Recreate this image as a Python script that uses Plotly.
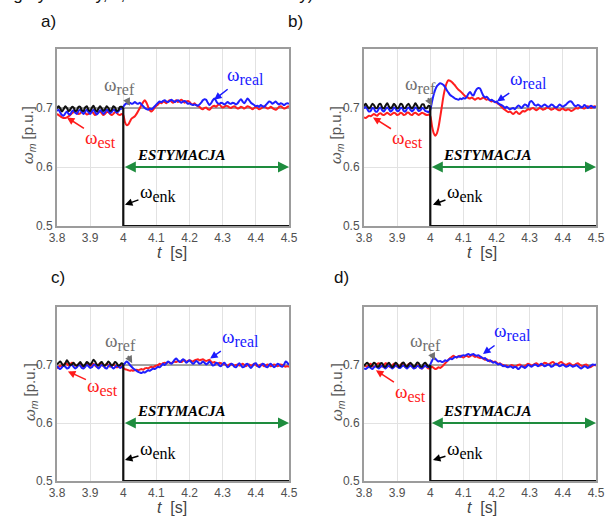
import plotly.graph_objects as go

# ---------------- data ----------------
T = [round(3.8 + 0.005 * i, 3) for i in range(141)]   # sampling instants [s]
T_PRE = T[:41]                                        # 3.8 ... 4.0 s (encoder working)
ENK_FAIL_T = [4.0, 4.0, 4.5]
REF_T = [3.8, 4.5]
REF_V = [0.7, 0.7]
ENK_FAIL_LEVEL = 0.5
X_TICKS = [3.8, 3.9, 4.0, 4.1, 4.2, 4.3, 4.4, 4.5]
X_TICK_LABELS = ["3.8", "3.9", "4", "4.1", "4.2", "4.3", "4.4", "4.5"]
Y_TICKS = [0.5, 0.6, 0.7]
Y_TICK_LABELS = ["0.5", "0.6", "0.7"]
EST_T = [4.0, 4.5]
EST_LEVEL = 0.6
PANEL_LABELS = ["a)", "b)", "c)", "d)"]
CAPTION = "algorytmiczny, c, d – detektor neuronowy)."

# ---- panel a ----
enk_a = [0.699, 0.703, 0.699, 0.694, 0.698, 0.703, 0.700, 0.695, 0.697, 0.702,
         0.701, 0.695, 0.696, 0.702, 0.702, 0.696, 0.695, 0.701, 0.703, 0.697,
         0.695, 0.700, 0.704, 0.698, 0.694, 0.699, 0.703, 0.699, 0.695, 0.698,
         0.703, 0.700, 0.695, 0.697, 0.703, 0.701, 0.695, 0.696, 0.702, 0.702,
         0.700]
real_a = [0.695, 0.697, 0.692, 0.688, 0.687, 0.691, 0.694, 0.690, 0.689, 0.694,
          0.696, 0.692, 0.690, 0.695, 0.697, 0.693, 0.690, 0.694, 0.697, 0.693,
          0.690, 0.694, 0.697, 0.693, 0.689, 0.692, 0.696, 0.694, 0.690, 0.693,
          0.697, 0.695, 0.691, 0.693, 0.697, 0.696, 0.692, 0.694, 0.698, 0.699,
          0.702, 0.706, 0.708, 0.707, 0.709, 0.707, 0.708, 0.710, 0.708, 0.707,
          0.709, 0.706, 0.703, 0.700, 0.698, 0.697, 0.699, 0.698, 0.700, 0.703,
          0.706, 0.709, 0.711, 0.710, 0.712, 0.713, 0.711, 0.710, 0.712, 0.714,
          0.712, 0.710, 0.712, 0.713, 0.711, 0.709, 0.711, 0.712, 0.710, 0.707,
          0.708, 0.706, 0.705, 0.706, 0.705, 0.704, 0.706, 0.709, 0.713, 0.715,
          0.714, 0.709, 0.705, 0.708, 0.713, 0.716, 0.712, 0.708, 0.707, 0.709,
          0.708, 0.706, 0.708, 0.710, 0.708, 0.707, 0.709, 0.708, 0.706, 0.708,
          0.712, 0.715, 0.711, 0.708, 0.712, 0.716, 0.713, 0.709, 0.707, 0.705,
          0.703, 0.704, 0.702, 0.705, 0.703, 0.702, 0.705, 0.708, 0.711, 0.710,
          0.707, 0.709, 0.711, 0.708, 0.706, 0.708, 0.707, 0.705, 0.707, 0.708,
          0.707]
est_a = [0.690, 0.688, 0.686, 0.684, 0.683, 0.683, 0.684, 0.686, 0.688, 0.691,
         0.693, 0.694, 0.692, 0.690, 0.691, 0.694, 0.695, 0.692, 0.689, 0.690,
         0.693, 0.694, 0.691, 0.688, 0.690, 0.693, 0.694, 0.691, 0.688, 0.690,
         0.693, 0.693, 0.690, 0.688, 0.690, 0.693, 0.692, 0.689, 0.688, 0.690,
         0.688, 0.676, 0.671, 0.672, 0.677, 0.682, 0.684, 0.686, 0.690, 0.695,
         0.700, 0.705, 0.710, 0.713, 0.709, 0.702, 0.696, 0.694, 0.697, 0.701,
         0.704, 0.706, 0.709, 0.708, 0.711, 0.710, 0.708, 0.711, 0.713, 0.711,
         0.709, 0.711, 0.713, 0.710, 0.712, 0.714, 0.712, 0.709, 0.711, 0.712,
         0.710, 0.707, 0.706, 0.708, 0.705, 0.703, 0.702, 0.699, 0.698, 0.700,
         0.701, 0.698, 0.697, 0.700, 0.703, 0.704, 0.702, 0.705, 0.706, 0.703,
         0.701, 0.702, 0.704, 0.703, 0.701, 0.700, 0.702, 0.703, 0.701, 0.699,
         0.700, 0.702, 0.701, 0.699, 0.701, 0.703, 0.702, 0.700, 0.698, 0.700,
         0.702, 0.700, 0.698, 0.699, 0.701, 0.703, 0.701, 0.699, 0.700, 0.702,
         0.700, 0.698, 0.697, 0.699, 0.702, 0.703, 0.701, 0.699, 0.700, 0.702,
         0.703]

# ---- panel b ----
enk_b = [0.703, 0.707, 0.703, 0.699, 0.702, 0.707, 0.705, 0.700, 0.700, 0.706,
         0.707, 0.701, 0.699, 0.704, 0.708, 0.703, 0.699, 0.702, 0.707, 0.704,
         0.699, 0.701, 0.707, 0.706, 0.700, 0.700, 0.705, 0.707, 0.702, 0.699,
         0.703, 0.708, 0.704, 0.699, 0.701, 0.706, 0.706, 0.700, 0.700, 0.704,
         0.703]
real_b = [0.699, 0.702, 0.698, 0.694, 0.695, 0.700, 0.699, 0.694, 0.694, 0.699,
          0.701, 0.696, 0.694, 0.698, 0.701, 0.698, 0.694, 0.696, 0.701, 0.699,
          0.695, 0.695, 0.700, 0.700, 0.695, 0.694, 0.699, 0.701, 0.697, 0.694,
          0.697, 0.701, 0.699, 0.695, 0.696, 0.700, 0.699, 0.695, 0.694, 0.693,
          0.697, 0.710, 0.722, 0.731, 0.737, 0.740, 0.742, 0.741, 0.739, 0.735,
          0.730, 0.726, 0.722, 0.720, 0.718, 0.716, 0.715, 0.714, 0.716, 0.715,
          0.717, 0.716, 0.719, 0.724, 0.727, 0.723, 0.721, 0.727, 0.732, 0.734,
          0.733, 0.727, 0.721, 0.718, 0.719, 0.716, 0.713, 0.714, 0.712, 0.710,
          0.711, 0.708, 0.706, 0.705, 0.703, 0.700, 0.702, 0.700, 0.698, 0.699,
          0.700, 0.698, 0.701, 0.704, 0.703, 0.700, 0.703, 0.706, 0.705, 0.702,
          0.710, 0.712, 0.709, 0.705, 0.704, 0.706, 0.704, 0.702, 0.704, 0.706,
          0.704, 0.702, 0.703, 0.706, 0.705, 0.702, 0.701, 0.703, 0.706, 0.704,
          0.702, 0.704, 0.706, 0.709, 0.711, 0.711, 0.708, 0.704, 0.703, 0.705,
          0.704, 0.701, 0.702, 0.705, 0.703, 0.700, 0.702, 0.704, 0.702, 0.701,
          0.703]
est_b = [0.684, 0.683, 0.685, 0.687, 0.686, 0.688, 0.690, 0.688, 0.687, 0.690,
         0.691, 0.689, 0.688, 0.690, 0.692, 0.690, 0.688, 0.690, 0.692, 0.691,
         0.688, 0.689, 0.692, 0.691, 0.688, 0.689, 0.692, 0.692, 0.689, 0.688,
         0.691, 0.692, 0.690, 0.688, 0.690, 0.692, 0.691, 0.689, 0.688, 0.689,
         0.686, 0.670, 0.658, 0.653, 0.657, 0.668, 0.685, 0.703, 0.721, 0.734,
         0.743, 0.747, 0.746, 0.744, 0.741, 0.738, 0.734, 0.731, 0.729, 0.726,
         0.723, 0.720, 0.719, 0.717, 0.716, 0.718, 0.716, 0.714, 0.716, 0.717,
         0.715, 0.716, 0.718, 0.716, 0.714, 0.715, 0.713, 0.711, 0.712, 0.710,
         0.709, 0.707, 0.705, 0.702, 0.699, 0.697, 0.695, 0.693, 0.694, 0.692,
         0.690, 0.692, 0.694, 0.691, 0.690, 0.693, 0.695, 0.694, 0.696, 0.698,
         0.697, 0.699, 0.700, 0.698, 0.696, 0.698, 0.700, 0.699, 0.697, 0.698,
         0.700, 0.701, 0.699, 0.697, 0.698, 0.700, 0.699, 0.697, 0.696, 0.698,
         0.699, 0.697, 0.696, 0.698, 0.697, 0.695, 0.696, 0.698, 0.700, 0.699,
         0.701, 0.702, 0.700, 0.699, 0.701, 0.703, 0.702, 0.700, 0.701, 0.703,
         0.702]

# ---- panel c ----
enk_c = [0.701, 0.704, 0.706, 0.702, 0.699, 0.703, 0.708, 0.704, 0.700, 0.701,
         0.704, 0.700, 0.699, 0.702, 0.705, 0.701, 0.698, 0.701, 0.705, 0.703,
         0.700, 0.704, 0.709, 0.706, 0.701, 0.699, 0.703, 0.705, 0.701, 0.699,
         0.702, 0.706, 0.703, 0.699, 0.701, 0.705, 0.703, 0.699, 0.700, 0.703,
         0.701]
real_c = [0.698, 0.695, 0.693, 0.696, 0.699, 0.697, 0.694, 0.695, 0.699, 0.700,
          0.697, 0.694, 0.696, 0.700, 0.699, 0.695, 0.694, 0.697, 0.700, 0.698,
          0.695, 0.696, 0.700, 0.701, 0.697, 0.694, 0.697, 0.700, 0.699, 0.695,
          0.694, 0.698, 0.700, 0.697, 0.694, 0.696, 0.699, 0.698, 0.695, 0.696,
          0.700, 0.703, 0.706, 0.704, 0.700, 0.697, 0.694, 0.692, 0.690, 0.688,
          0.687, 0.686, 0.688, 0.687, 0.689, 0.691, 0.690, 0.692, 0.694, 0.693,
          0.695, 0.697, 0.696, 0.699, 0.702, 0.700, 0.703, 0.706, 0.704, 0.702,
          0.705, 0.709, 0.711, 0.708, 0.705, 0.707, 0.710, 0.708, 0.704, 0.706,
          0.708, 0.705, 0.702, 0.704, 0.707, 0.705, 0.702, 0.703, 0.706, 0.704,
          0.701, 0.703, 0.706, 0.703, 0.699, 0.700, 0.704, 0.703, 0.699, 0.698,
          0.702, 0.704, 0.700, 0.696, 0.698, 0.702, 0.701, 0.697, 0.696, 0.700,
          0.703, 0.700, 0.696, 0.697, 0.701, 0.702, 0.698, 0.695, 0.698, 0.702,
          0.703, 0.699, 0.696, 0.699, 0.702, 0.701, 0.697, 0.696, 0.700, 0.702,
          0.699, 0.696, 0.698, 0.702, 0.701, 0.698, 0.697, 0.701, 0.706, 0.704,
          0.700]
est_c = [0.694, 0.697, 0.699, 0.697, 0.700, 0.703, 0.702, 0.699, 0.701, 0.704,
         0.703, 0.700, 0.698, 0.701, 0.703, 0.700, 0.697, 0.699, 0.702, 0.700,
         0.698, 0.700, 0.702, 0.699, 0.697, 0.700, 0.703, 0.701, 0.698, 0.699,
         0.702, 0.700, 0.697, 0.699, 0.701, 0.699, 0.696, 0.697, 0.699, 0.697,
         0.695, 0.693, 0.692, 0.691, 0.690, 0.691, 0.690, 0.691, 0.692, 0.691,
         0.692, 0.693, 0.692, 0.694, 0.695, 0.694, 0.696, 0.697, 0.696, 0.698,
         0.699, 0.700, 0.702, 0.701, 0.703, 0.704, 0.703, 0.705, 0.704, 0.703,
         0.705, 0.706, 0.705, 0.707, 0.706, 0.705, 0.707, 0.708, 0.706, 0.707,
         0.708, 0.707, 0.706, 0.708, 0.709, 0.710, 0.708, 0.709, 0.710, 0.708,
         0.707, 0.708, 0.709, 0.706, 0.704, 0.705, 0.703, 0.702, 0.704, 0.703,
         0.701, 0.702, 0.700, 0.699, 0.701, 0.702, 0.700, 0.699, 0.700, 0.701,
         0.699, 0.700, 0.702, 0.700, 0.698, 0.700, 0.701, 0.699, 0.700, 0.702,
         0.700, 0.698, 0.699, 0.701, 0.700, 0.698, 0.699, 0.701, 0.700, 0.698,
         0.699, 0.701, 0.700, 0.698, 0.699, 0.701, 0.700, 0.698, 0.697, 0.698,
         0.697]

# ---- panel d ----
enk_d = [0.698, 0.702, 0.704, 0.700, 0.697, 0.700, 0.704, 0.702, 0.697, 0.698,
         0.703, 0.703, 0.698, 0.697, 0.701, 0.704, 0.700, 0.696, 0.699, 0.704,
         0.702, 0.697, 0.698, 0.703, 0.704, 0.699, 0.697, 0.701, 0.704, 0.701,
         0.697, 0.699, 0.704, 0.703, 0.698, 0.697, 0.702, 0.704, 0.700, 0.697,
         0.700]
real_d = [0.694, 0.693, 0.695, 0.697, 0.695, 0.693, 0.696, 0.698, 0.696, 0.694,
          0.697, 0.699, 0.696, 0.694, 0.697, 0.699, 0.697, 0.694, 0.696, 0.699,
          0.698, 0.695, 0.695, 0.698, 0.699, 0.696, 0.694, 0.697, 0.699, 0.697,
          0.694, 0.695, 0.698, 0.698, 0.695, 0.694, 0.697, 0.699, 0.697, 0.697,
          0.701, 0.707, 0.712, 0.711, 0.708, 0.706, 0.707, 0.705, 0.706, 0.708,
          0.707, 0.709, 0.711, 0.710, 0.712, 0.714, 0.713, 0.715, 0.714, 0.716,
          0.717, 0.716, 0.718, 0.719, 0.717, 0.718, 0.719, 0.717, 0.716, 0.717,
          0.715, 0.713, 0.711, 0.712, 0.709, 0.707, 0.708, 0.706, 0.704, 0.705,
          0.703, 0.701, 0.702, 0.700, 0.698, 0.699, 0.697, 0.696, 0.698, 0.697,
          0.695, 0.697, 0.696, 0.693, 0.695, 0.698, 0.697, 0.695, 0.697, 0.700,
          0.699, 0.697, 0.699, 0.701, 0.700, 0.698, 0.700, 0.702, 0.700, 0.698,
          0.699, 0.701, 0.700, 0.697, 0.698, 0.701, 0.702, 0.700, 0.698, 0.699,
          0.701, 0.699, 0.697, 0.698, 0.700, 0.699, 0.697, 0.698, 0.700, 0.698,
          0.696, 0.694, 0.696, 0.698, 0.697, 0.695, 0.697, 0.699, 0.701, 0.700,
          0.701]
est_d = [0.701, 0.698, 0.697, 0.700, 0.702, 0.699, 0.696, 0.698, 0.702, 0.703,
         0.700, 0.697, 0.699, 0.703, 0.702, 0.698, 0.696, 0.699, 0.702, 0.701,
         0.697, 0.696, 0.700, 0.703, 0.700, 0.697, 0.698, 0.702, 0.702, 0.698,
         0.695, 0.697, 0.700, 0.698, 0.695, 0.694, 0.697, 0.699, 0.696, 0.694,
         0.695, 0.697, 0.695, 0.693, 0.694, 0.696, 0.695, 0.697, 0.700, 0.703,
         0.706, 0.709, 0.712, 0.714, 0.716, 0.714, 0.713, 0.715, 0.716, 0.714,
         0.713, 0.715, 0.716, 0.714, 0.715, 0.717, 0.716, 0.714, 0.715, 0.713,
         0.712, 0.713, 0.711, 0.709, 0.710, 0.708, 0.706, 0.707, 0.705, 0.706,
         0.704, 0.702, 0.703, 0.701, 0.700, 0.698, 0.699, 0.697, 0.698, 0.700,
         0.699, 0.697, 0.698, 0.700, 0.701, 0.699, 0.697, 0.698, 0.700, 0.702,
         0.701, 0.699, 0.700, 0.702, 0.703, 0.701, 0.699, 0.700, 0.702, 0.704,
         0.703, 0.701, 0.702, 0.704, 0.705, 0.703, 0.701, 0.702, 0.704, 0.705,
         0.703, 0.701, 0.700, 0.702, 0.703, 0.701, 0.699, 0.700, 0.702, 0.703,
         0.701, 0.699, 0.698, 0.700, 0.701, 0.699, 0.696, 0.697, 0.699, 0.700,
         0.699]

SERIES = {"a": (enk_a, real_a, est_a), "b": (enk_b, real_b, est_b),
          "c": (enk_c, real_c, est_c), "d": (enk_d, real_d, est_d)}

# ---------------- layout helpers ----------------
W, H = 606, 517
def px(p):
    return p / W
def py(p):
    return 1 - p / H

COL_REAL = "#1f1fff"
COL_EST = "#ff1f1f"
COL_ENK = "#111111"
COL_REF = "#8a8a8a"
COL_GREEN = "#1e8c3e"
SERIF = "Liberation Serif, Times New Roman, serif"
SANS = "Liberation Sans, Arial, sans-serif"

# pixel geometry of each panel: (x_left, x_right, y_top, y_bottom)
PANELS = [
    dict(k="a", n="", box=(57, 289, 49, 226), lab=(49, 21), ylab=(29, 135), xlab=(172, 253),
         ref=(4.02, 0.704, -10, -20), real=(4.274, 0.714, 31, -24), est=(3.83, 0.684, 34, 22),
         enk=(4.005, 0.536, 33, -12), esty=(4.177, 0.62)),
    dict(k="b", n="2", box=(364, 596, 49, 226), lab=(295, 21), ylab=(337, 135), xlab=(482, 253),
         ref=(4.005, 0.704, -11, -21), real=(4.201, 0.711, 32, -22), est=(3.827, 0.684, 35, 22),
         enk=(4.008, 0.536, 32, -12), esty=(4.174, 0.62)),
    dict(k="c", n="3", box=(57, 289, 307, 481), lab=(58, 277), ylab=(30, 392), xlab=(172, 508),
         ref=(4.027, 0.703, -12, -21), real=(4.262, 0.711, 30, -21), est=(3.833, 0.689, 35, 16),
         enk=(4.005, 0.536, 33, -10), esty=(4.177, 0.62)),
    dict(k="d", n="4", box=(364, 596, 307, 481), lab=(342, 277), ylab=(337, 392), xlab=(482, 508),
         ref=(4.014, 0.708, -9, -18), real=(4.159, 0.719, 30, -22), est=(3.836, 0.691, 35, 23),
         enk=(4.008, 0.536, 32, -10), esty=(4.174, 0.62)),
]

fig = go.Figure()
annotations = []
layout_axes = {}

for i, p in enumerate(PANELS):
    xa, ya = "x" + p["n"], "y" + p["n"]
    enk, real, est = SERIES[p["k"]]
    x0, x1, y0, y1 = p["box"]
    # traces
    fig.add_trace(go.Scatter(x=REF_T, y=REF_V, mode="lines", xaxis=xa, yaxis=ya,
                             line=dict(color=COL_REF, width=1.6), hoverinfo="skip"))
    fig.add_trace(go.Scatter(x=T, y=est, mode="lines", xaxis=xa, yaxis=ya,
                             line=dict(color=COL_EST, width=2, shape="spline", smoothing=0.8)))
    fig.add_trace(go.Scatter(x=T, y=real, mode="lines", xaxis=xa, yaxis=ya,
                             line=dict(color=COL_REAL, width=2, shape="spline", smoothing=0.8)))
    fig.add_trace(go.Scatter(x=T_PRE, y=enk, mode="lines", xaxis=xa, yaxis=ya,
                             line=dict(color=COL_ENK, width=2, shape="spline", smoothing=0.8)))
    # encoder failure: drop to zero-level at t = 4 s
    fig.add_trace(go.Scatter(x=ENK_FAIL_T, y=[enk[-1], ENK_FAIL_LEVEL, ENK_FAIL_LEVEL],
                             mode="lines", xaxis=xa, yaxis=ya,
                             line=dict(color=COL_ENK, width=2.2)))
    # axes
    common = dict(showgrid=True, gridcolor="#e2e2e2", gridwidth=1, showline=True,
                  linecolor="#9c9c9c", linewidth=2, mirror=True, ticks="", zeroline=False,
                  tickfont=dict(family=SANS, size=12, color="#505050"), fixedrange=True,
                  automargin=False)
    layout_axes["xaxis" + p["n"]] = dict(domain=[px(x0), px(x1)], anchor=ya, range=[3.8, 4.5],
                                         tickvals=X_TICKS, ticktext=X_TICK_LABELS, **common)
    layout_axes["yaxis" + p["n"]] = dict(domain=[py(y1), py(y0)], anchor=xa, range=[0.5, 0.8],
                                         tickvals=Y_TICKS, ticktext=Y_TICK_LABELS, **common)
    # panel label
    annotations.append(dict(xref="paper", yref="paper", x=px(p["lab"][0]), y=py(p["lab"][1]),
                            xanchor="center", yanchor="middle",
                            text=PANEL_LABELS[i], showarrow=False,
                            font=dict(family=SANS, size=17, color="#111")))
    # axis titles
    annotations.append(dict(xref="paper", yref="paper", x=px(p["ylab"][0]), y=py(p["ylab"][1]),
                            xanchor="center", yanchor="middle",
                            text="<i>ω</i><sub><i>m</i></sub> [p.u.]", textangle=-90, showarrow=False,
                            font=dict(family=SANS, size=15, color="#555")))
    annotations.append(dict(xref="paper", yref="paper", x=px(p["xlab"][0]), y=py(p["xlab"][1]),
                            xanchor="center", yanchor="middle",
                            text="<i>t</i>  [s]", showarrow=False,
                            font=dict(family=SANS, size=16, color="#444")))
    # arrows with labels
    for key, sub, col in [("ref", "ref", "#707070"), ("real", "real", "#1a1aff"),
                          ("est", "est", "#ff1a1a"), ("enk", "enk", "#000000")]:
        hx, hy, dx, dy = p[key]
        annotations.append(dict(xref=xa, yref=ya, x=hx, y=hy, ax=dx, ay=dy,
                                text="ω<sub><span style='font-size:16px'>" + sub + "</span></sub>",
                                showarrow=True, arrowhead=2, arrowsize=1, arrowwidth=1.5,
                                arrowcolor=col, standoff=0,
                                font=dict(family=SERIF, size=19, color=col)))
    # ESTYMACJA
    annotations.append(dict(xref=xa, yref=ya, x=p["esty"][0], y=p["esty"][1],
                            xanchor="center", yanchor="middle",
                            text="<b><i>ESTYMACJA</i></b>", showarrow=False,
                            font=dict(family=SERIF, size=15, color="#000")))
    # green double arrow
    annotations.append(dict(xref=xa, yref=ya, x=EST_T[1], y=EST_LEVEL, ax=EST_T[0], ay=EST_LEVEL,
                            axref=xa, ayref=ya, text="", showarrow=True, arrowhead=2,
                            startarrowhead=2, arrowside="end+start", arrowsize=1.1,
                            startarrowsize=1.1, arrowwidth=2, arrowcolor=COL_GREEN))

# caption fragment at top (cut off by figure edge)
annotations.append(dict(xref="paper", yref="paper", x=px(-2), y=py(6), xanchor="left",
                        yanchor="bottom", text=CAPTION, showarrow=False,
                        font=dict(family=SANS, size=17, color="#111")))

fig.update_layout(width=W, height=H, margin=dict(l=0, r=0, t=0, b=0, autoexpand=False),
                  paper_bgcolor="white", plot_bgcolor="white", showlegend=False,
                  annotations=annotations, **layout_axes)

fig.write_html("out.html", config={"displayModeBar": False},
               post_script="document.body.style.margin='0';")
